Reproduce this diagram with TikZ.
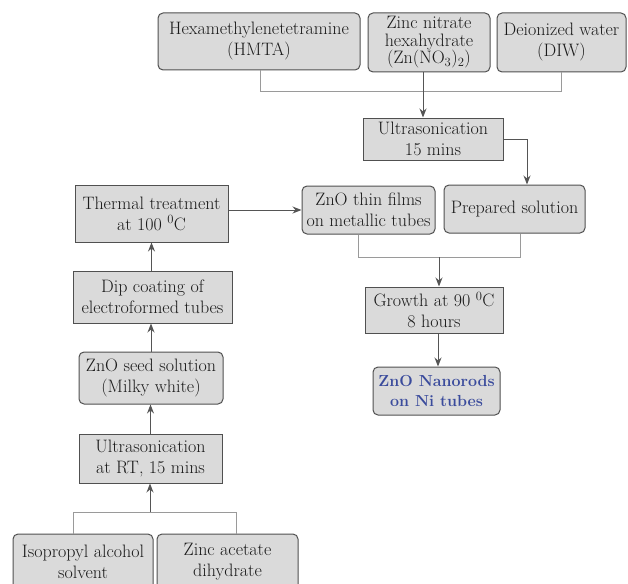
\documentclass[tikz,border=0pt]{standalone}
\usetikzlibrary{arrows.meta,calc}
\definecolor{boxfill}{HTML}{DADADA}
\definecolor{boxline}{HTML}{505050}
\definecolor{linkgray}{HTML}{9A9A9A}
\definecolor{arrgray}{HTML}{555555}
\definecolor{nanoblue}{HTML}{3A4B9C}
\definecolor{txt}{HTML}{1A1A1A}
\begin{document}
\begin{tikzpicture}[x=1pt,y=-1pt,
 box/.style={draw=boxline, fill=boxfill, line width=1pt, align=center, inner sep=0pt, text=txt, font=\rmfamily\fontsize{18}{21}\selectfont},
 rbox/.style={box, rounded corners=5pt},
 link/.style={draw=linkgray, line width=1pt},
 arr/.style={draw=arrgray, line width=1pt, -{Stealth[length=9pt,width=7pt]}}]
\useasboundingbox (0,0) rectangle (628,583);

\node[rbox, minimum width=202pt, minimum height=57pt] (hmta) at (259,41.5) {Hexamethylenetetramine\\(HMTA)};
\node[rbox, minimum width=122pt, minimum height=59pt, font=\rmfamily\fontsize{18}{17.5}\selectfont] (zn) at (429,42.5) {Zinc nitrate\\hexahydrate\\(Zn(NO\textsubscript{3})\textsubscript{2})};
\node[rbox, minimum width=129pt, minimum height=59pt] (diw) at (561.5,42.5) {Deionized water\\(DIW)};
\node[box, minimum width=140pt, minimum height=42pt] (ult) at (433,139) {Ultrasonication\\15 mins};
\node[rbox, minimum width=133pt, minimum height=48pt] (film) at (368.5,210) {ZnO thin films\\on metallic tubes};
\node[rbox, minimum width=141pt, minimum height=48pt] (prep) at (514.5,209) {Prepared solution};
\node[box, minimum width=138pt, minimum height=46pt] (grow) at (434,310) {Growth at 90 \textsuperscript{0}C\\8 hours};
\node[rbox, minimum width=127pt, minimum height=48pt, text=nanoblue, font=\rmfamily\fontsize{16}{20}\selectfont\bfseries] (nano) at (436.5,391) {ZnO Nanorods\\on Ni tubes};
\node[box, minimum width=153pt, minimum height=57pt] (therm) at (151.5,213.5) {Thermal treatment\\at 100 \textsuperscript{0}C};
\node[box, minimum width=159pt, minimum height=52pt] (dip) at (152.5,297) {Dip coating of\\electroformed tubes};
\node[rbox, minimum width=144pt, minimum height=52pt] (seed) at (151,378) {ZnO seed solution\\(Milky white)};
\node[box, minimum width=143pt, minimum height=49pt] (ultrt) at (150.5,458.5) {Ultrasonication\\at RT, 15 mins};
\node[rbox, minimum width=140pt, minimum height=56pt] (iso) at (83,562) {Isopropyl alcohol\\solvent};
\node[rbox, minimum width=141pt, minimum height=56pt] (zac) at (227.5,562) {Zinc acetate\\dihydrate};

% top merge
\coordinate (j1) at (423,92);
\draw[link] ([xshift=1pt]hmta.south) -- ([xshift=1pt]hmta.south |- j1) -- (diw.south |- j1) -- (diw.south);
\draw[arr] (zn.south -| j1) -- (ult.north -| j1);
\draw[arr] (ult.east) -| ([xshift=12.5pt]prep.north);
% middle merge
\coordinate (j2) at (439,257);
\draw[link] ([xshift=-10.5pt]film.south) -- ([xshift=-10.5pt]film.south |- j2) -- ([xshift=5.5pt]prep.south |- j2) -- ([xshift=5.5pt]prep.south);
\draw[arr] (j2) -- (grow.north -| j2);
\draw[arr] ([xshift=1.5pt]grow.south -| nano.north) -- ([xshift=1.5pt]nano.north);
\draw[arr] (therm.east |- film.west) -- (film.west);
% left column
\draw[arr] (dip.north -| therm.south) -- (therm.south);
\draw[arr] (seed.north) -- (seed.north |- dip.south);
\draw[arr] (ultrt.north) -- (ultrt.north |- seed.south);
\coordinate (j3) at (150,512);
\draw[link] ([xshift=-10pt]iso.north) -- ([xshift=-10pt]iso.north |- j3) -- ([xshift=8.5pt]zac.north |- j3) -- ([xshift=8.5pt]zac.north);
\draw[arr] (j3) -- (ultrt.south -| j3);
\end{tikzpicture}
\end{document}
